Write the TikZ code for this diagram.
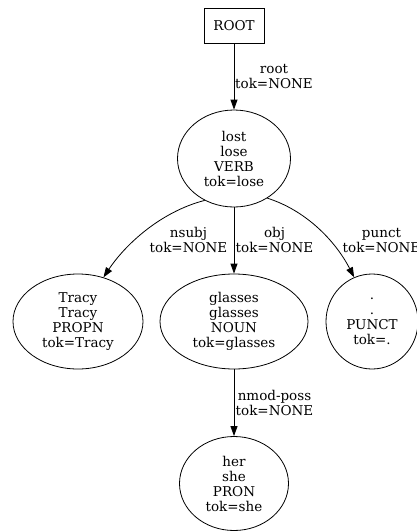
\documentclass[tikz,border=0pt]{standalone}
\usepackage{fontspec}
\setmainfont{DejaVu Serif}
\usetikzlibrary{shapes.geometric,arrows.meta}

\tikzset{
  tokfont/.style={font=\fontsize{13.5}{15}\selectfont},
  tokbox/.style={draw, rectangle, tokfont, minimum width=60pt, minimum height=35pt, inner sep=0pt},
  tokell/.style={draw, ellipse, tokfont, align=center, inner sep=0pt},
  deplabel/.style={tokfont, align=center, inner sep=0pt},
  dep/.style={line width=0.8pt, -{Triangle[length=10pt,width=7pt]}},
}

\begin{document}
\begin{tikzpicture}[x=1pt, y=-1pt, line width=0.8pt]
  \useasboundingbox (0,0) rectangle (417,531);

  % tokens
  \node[tokbox] (root) at (234,25.5) {ROOT};
  \node[tokell, minimum width=113pt, minimum height=97pt] (lost) at (234,158.5)
    {lost\\lose\\VERB\\tok=lose};
  \node[tokell, minimum width=130pt, minimum height=95pt] (tracy) at (78,321.5)
    {Tracy\\Tracy\\PROPN\\tok=Tracy};
  \node[tokell, minimum width=148pt, minimum height=95pt] (glasses) at (234,321.5)
    {glasses\\glasses\\NOUN\\tok=glasses};
  \node[tokell, minimum width=92pt, minimum height=95pt] (dot) at (372,321.5)
    {.\\.\\PUNCT\\tok=.};
  \node[tokell, minimum width=109pt, minimum height=94pt] (her) at (234,483.5)
    {her\\she\\PRON\\tok=she};

  % dependency arcs
  \draw[dep] (root.south) -- (lost.north);
  \draw[dep] (lost.south) -- (glasses.north);
  \draw[dep] (glasses.south) -- (her.north);
  \draw[dep] (lost.-125) .. controls (160,212) and (125,245) .. (tracy.60);
  \draw[dep] (lost.-50) .. controls (305,210) and (335,240) .. (dot.112);

  % arc labels
  \node[deplabel] (lroot) at (274,76.5) {root\\tok=NONE};
  \node[deplabel] (lnsubj) at (188.5,240) {nsubj\\tok=NONE};
  \node[deplabel] (lobj) at (274.5,240) {obj\\tok=NONE};
  \node[deplabel] (lpunct) at (381.5,240) {punct\\tok=NONE};
  \node[deplabel] (lnmod) at (274.5,402.5) {nmod-poss\\tok=NONE};
\end{tikzpicture}
\end{document}
